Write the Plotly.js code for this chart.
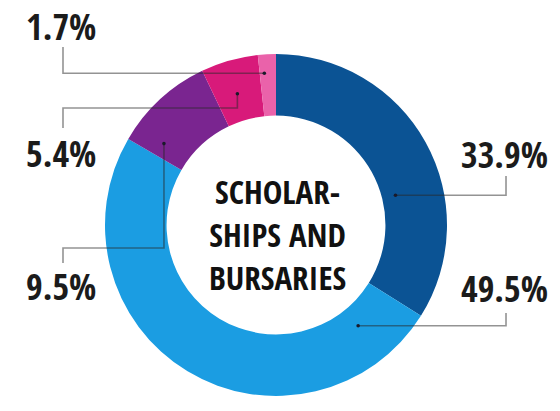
<!DOCTYPE html>
<html>
<head>
<meta charset="utf-8">
<script src="https://cdn.plot.ly/plotly-3.0.1.min.js"></script>
<style>
  html, body { margin: 0; padding: 0; background: #ffffff; }
  #chart { width: 560px; height: 411px; }
</style>
</head>
<body>
<div id="chart"></div>
<script>
// ---- data ----
const categories = ['Slice A', 'Slice B', 'Slice C', 'Slice D', 'Slice E'];
const values = [33.9, 49.5, 9.5, 5.4, 1.7];
const colors = ['#0b5394', '#1b9de2', '#7a2590', '#d81a7a', '#ea62aa'];
const centerLabel = 'SCHOLAR-<br>SHIPS AND<br>BURSARIES';

// ---- layout geometry (pixels) ----
const W = 560, H = 411;
const CX = 276, CY = 225, R = 171;
const HOLE = 0.64;
const FONT = 'Open Sans Condensed, Roboto Condensed, sans-serif';

const px = (x) => x / W;
const py = (y) => 1 - y / H;

// callouts: anchor inside slice (angle clockwise from top in deg, relative radius),
// leader-line route and label centre
const callouts = [
  { i: 0, ang: 76,    rr: 0.72, route: (p) => [[p[0], p[1]], [506, p[1]], [506, 176]], label: [504, 154] },
  { i: 1, ang: 140.8, rr: 0.76, route: (p) => [[p[0], p[1]], [506, p[1]], [506, 313]], label: [504, 288] },
  { i: 2, ang: -54,   rr: 0.81, route: (p) => [[p[0], p[1]], [p[0], 248], [63, 248], [63, 263]], label: [61, 286] },
  { i: 3, ang: -16.4, rr: 0.80, route: (p) => [[p[0], p[1]], [p[0], 108], [63, 108], [63, 128]], label: [61, 153] },
  { i: 4, ang: -4.4,  rr: 0.89, route: (p) => [[p[0], p[1]], [63, p[1]], [63, 47]], label: [61, 26] }
];

const shapes = [];
const annotations = [];
callouts.forEach(c => {
  const a = c.ang * Math.PI / 180;
  const p = [CX + R * c.rr * Math.sin(a), CY - R * c.rr * Math.cos(a)];
  const pts = c.route(p);
  const d = pts.map((q, k) => (k ? 'L' : 'M') + px(q[0]).toFixed(4) + ',' + py(q[1]).toFixed(4)).join(' ');
  shapes.push({
    type: 'path', xref: 'paper', yref: 'paper', path: d,
    line: { color: 'rgba(40,40,40,0.5)', width: 1.6 }
  });
  const r = 1.8;
  shapes.push({
    type: 'circle', xref: 'paper', yref: 'paper',
    x0: px(p[0] - r), x1: px(p[0] + r), y0: py(p[1] + r), y1: py(p[1] - r),
    fillcolor: '#1a1a2a', line: { width: 0 }
  });
  annotations.push({
    xref: 'paper', yref: 'paper', x: px(c.label[0]), y: py(c.label[1]),
    xanchor: 'center', yanchor: 'middle', showarrow: false,
    text: values[c.i].toFixed(1) + '%',
    font: { family: FONT, size: 36, color: '#1b1b1b', weight: 700 }
  });
});

annotations.push({
  xref: 'paper', yref: 'paper', x: px(CX + 1), y: py(CY + 9),
  xanchor: 'center', yanchor: 'middle', showarrow: false,
  text: centerLabel,
  font: { family: FONT, size: 33, color: '#111111', weight: 700 }
});

const trace = {
  type: 'pie',
  labels: categories,
  values: values,
  hole: HOLE,
  sort: false,
  direction: 'clockwise',
  rotation: 0,
  textinfo: 'none',
  hoverinfo: 'none',
  marker: { colors: colors, line: { width: 0 } },
  domain: { x: [px(CX - R), px(CX + R)], y: [py(CY + R), py(CY - R)] },
  showlegend: false
};

const layout = {
  width: W, height: H,
  margin: { l: 0, r: 0, t: 0, b: 0 },
  paper_bgcolor: '#ffffff',
  plot_bgcolor: '#ffffff',
  showlegend: false,
  shapes: shapes,
  annotations: annotations
};

Plotly.newPlot('chart', [trace], layout, { displayModeBar: false, staticPlot: true });
</script>
</body>
</html>
